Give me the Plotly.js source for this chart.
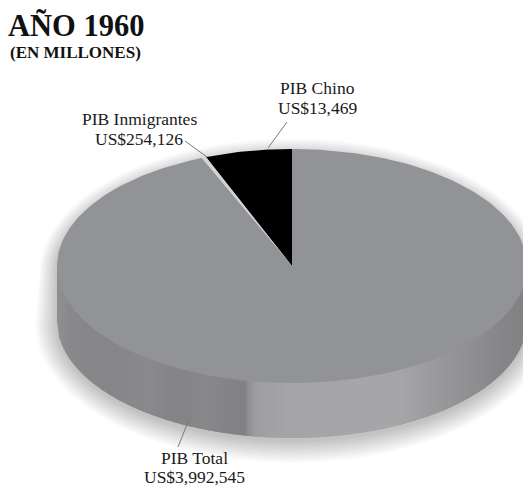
<!DOCTYPE html>
<html>
<head>
<meta charset="utf-8">
<script src="https://cdn.plot.ly/plotly-3.0.1.min.js"></script>
<style>html,body{margin:0;padding:0;background:#fff}#chart{width:523px;height:488px}</style>
</head>
<body>
<div id="chart"></div>
<script>
// GDP values, in millions of US dollars, clockwise from the sliver to the main slice
const sliceNames = ['PIB Total', 'PIB Chino', 'PIB Inmigrantes'];
const sliceValues = [3992545, 13469, 254126];
const sliceColors = ['#929396', '#d2d3d5', '#000000'];

// Caption text for each callout, one entry per line
const callouts = [
  {text: 'PIB Chino', x: 317, y: 88},
  {text: 'US$13,469', x: 317, y: 108},
  {text: 'PIB Inmigrantes', x: 139, y: 119},
  {text: 'US$254,126', x: 139, y: 139},
  {text: 'PIB Total', x: 194, y: 458},
  {text: 'US$3,992,545', x: 194, y: 477}
];
const leaders = [
  {x: [287, 268], y: [122, 148]},
  {x: [185, 207], y: [141, 157]},
  {x: [190, 178], y: [417, 447]}
];

// Side wall lighting: horizontal position and grey level
const wallStopX = [57, 72, 110, 150, 175, 205, 245, 248, 256, 290, 400, 425, 462, 500, 527];
const wallStopGrey = [143, 136, 134, 137, 132, 136, 129, 142, 158, 165, 166, 157, 146, 134, 129];

// Disc geometry, in the page's pixel coordinates
const cx = 292, cy = 266, rx = 235, ry = 117, depth = 55;

function ellipsePoint(turn, grow, dy) {
  const a = turn * 2 * Math.PI;
  return [cx + (rx + grow) * Math.sin(a), cy + dy + (ry + grow) * -Math.cos(a)];
}

function polygon(points, color) {
  return {
    type: 'scatter', mode: 'lines', fill: 'toself', fillcolor: color,
    x: points.map(p => p[0]), y: points.map(p => p[1]),
    line: {width: 0, color: color}, hoverinfo: 'skip', showlegend: false
  };
}

const traces = [];

// Soft shadow: stacked translucent outlines of the disc silhouette
for (let d = 22; d >= 1; d -= 1.5) {
  const pts = [];
  for (let i = 0; i <= 180; i++) pts.push(ellipsePoint(-0.25 + i / 360, d * 0.8, 7));
  for (let i = 0; i <= 180; i++) pts.push(ellipsePoint(0.25 + i / 360, d, 3 + depth));
  traces.push(polygon(pts, 'rgba(0,0,0,0.014)'));
}

// Side wall: narrow vertical bands shaded from the lighting stops
function wallGrey(x) {
  for (let i = 1; i < wallStopX.length; i++) {
    if (x <= wallStopX[i]) {
      const t = (x - wallStopX[i - 1]) / (wallStopX[i] - wallStopX[i - 1]);
      return wallStopGrey[i - 1] + t * (wallStopGrey[i] - wallStopGrey[i - 1]);
    }
  }
  return wallStopGrey[wallStopGrey.length - 1];
}
const bottomEdge = x => cy + ry * Math.sqrt(Math.max(0, 1 - ((x - cx) / rx) ** 2));
for (let x = cx - rx; x < cx + rx; x += 2) {
  const g = Math.round(wallGrey(x + 1));
  const pts = [];
  for (let k = 0; k <= 3; k++) pts.push([x + k, bottomEdge(x + k) + depth]);
  pts.push([x + 3, cy - 2], [x, cy - 2]);
  traces.push(polygon(pts, `rgb(${g},${g},${g + 3})`));
}

// Top face: one wedge per value, sized by its share of the sum
const sum = sliceValues.reduce((a, b) => a + b, 0);
let start = sliceValues[2] / sum * -1;
const order = [2, 1, 0];
order.forEach(idx => {
  const share = sliceValues[idx] / sum;
  const steps = Math.max(2, Math.ceil(share * 360));
  const pts = [[cx, cy]];
  for (let i = 0; i <= steps; i++) pts.push(ellipsePoint(start + share * i / steps, 0, 0));
  pts.push([cx, cy]);
  traces.push(polygon(pts, sliceColors[idx]));
  // The next wedge continues anticlockwise from this one
  const next = order[order.indexOf(idx) + 1];
  if (next !== undefined) start -= sliceValues[next] / sum;
});

// Thin callout lines
leaders.forEach(l => traces.push({
  type: 'scatter', mode: 'lines', x: l.x, y: l.y,
  line: {width: 1, color: '#77787b'}, hoverinfo: 'skip', showlegend: false
}));

const serif = '"Liberation Serif", serif';
const annotations = callouts.map(c => ({
  text: c.text, x: c.x, y: c.y, xref: 'x', yref: 'y', showarrow: false,
  align: 'center', xanchor: 'center', yanchor: 'middle',
  font: {family: serif, size: 17.5, color: '#1a1a1a'}
}));
annotations.push(
  {text: '<b>AÑO 1960</b>', x: 6, y: 26, xref: 'x', yref: 'y', showarrow: false,
   xanchor: 'left', yanchor: 'middle', font: {family: serif, size: 30.5, color: '#111'}},
  {text: '<b>(EN MILLONES)</b>', x: 8, y: 52, xref: 'x', yref: 'y', showarrow: false,
   xanchor: 'left', yanchor: 'middle', font: {family: serif, size: 17, color: '#111'}}
);

const hidden = {visible: false, fixedrange: true};
Plotly.newPlot('chart', traces, {
  width: 523, height: 488,
  margin: {l: 0, r: 0, t: 0, b: 0},
  paper_bgcolor: '#fff', plot_bgcolor: '#fff',
  showlegend: false,
  xaxis: Object.assign({range: [0, 523]}, hidden),
  yaxis: Object.assign({range: [488, 0]}, hidden),
  annotations: annotations
}, {displayModeBar: false, staticPlot: true});
</script>
</body>
</html>
